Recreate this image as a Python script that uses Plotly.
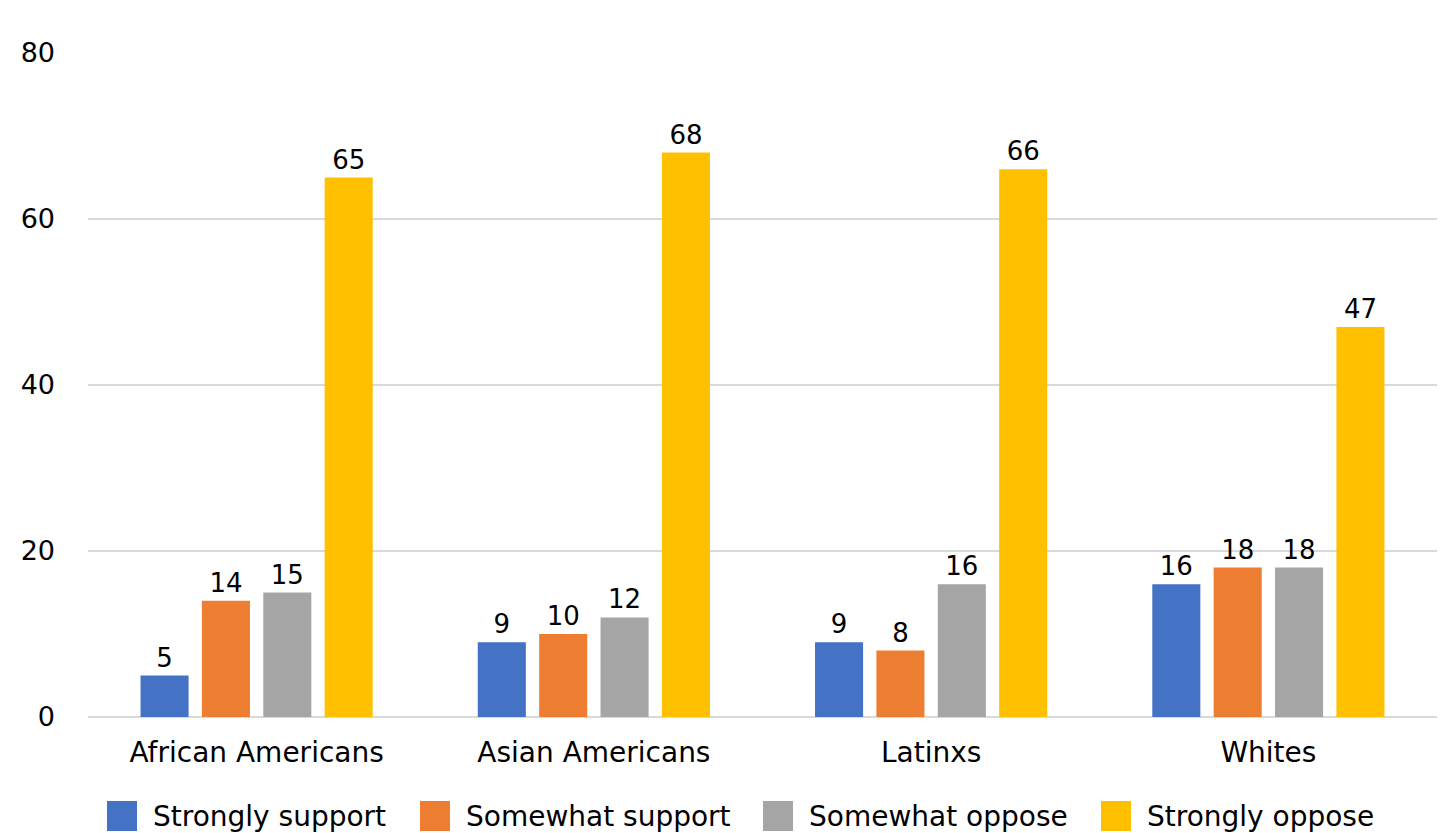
import plotly.graph_objects as go

categories = ["African Americans", "Asian Americans", "Latinxs", "Whites"]
series_names = ["Strongly support", "Somewhat support", "Somewhat oppose", "Strongly oppose"]
strongly_support = [5, 9, 9, 16]
somewhat_support = [14, 10, 8, 18]
somewhat_oppose = [15, 12, 16, 18]
strongly_oppose = [65, 68, 66, 47]
colors = ["#4472c4", "#ed7d31", "#a5a5a5", "#ffc000"]

font_family = "DejaVu Sans, Verdana, sans-serif"

# page has an 8px body margin, so the figure is 8px smaller than the window
OFF = 8
W, H = 1448 - OFF, 833 - OFF
ML, MR, MT, MB = 88 - OFF, 11, 53 - OFF, 116
pw, ph = W - ML - MR, H - MT - MB

fig = go.Figure()
for name, vals, col in zip(series_names,
                           [strongly_support, somewhat_support, somewhat_oppose, strongly_oppose],
                           colors):
    fig.add_trace(go.Bar(
        x=categories, y=vals, name=name,
        marker=dict(color=col, line=dict(width=0)),
        text=vals, textposition="outside",
        textfont=dict(size=26, color="black"),
        cliponaxis=False,
        showlegend=False,
    ))

# manual legend with big square swatches (page pixel positions)
legend_swatch_x = [107, 420, 763, 1101]
legend_y = 816
sw = 30
for name, col, sx in zip(series_names, colors, legend_swatch_x):
    fx = sx - OFF
    fy = legend_y - OFF
    fig.add_shape(type="rect", xref="paper", yref="paper",
                  x0=(fx - ML) / pw, x1=(fx + sw - ML) / pw,
                  y0=(H - MB - (fy + sw / 2)) / ph, y1=(H - MB - (fy - sw / 2)) / ph,
                  fillcolor=col, line=dict(width=0))
    fig.add_annotation(xref="paper", yref="paper", x=(fx + sw + 14 - ML) / pw,
                       y=(H - MB - fy) / ph, text=name, showarrow=False,
                       xanchor="left", yanchor="middle", font=dict(size=28, color="black"))

fig.update_layout(
    width=W, height=H,
    margin=dict(l=ML, r=MR, t=MT, b=MB),
    plot_bgcolor="white", paper_bgcolor="white",
    font=dict(family=font_family, size=27, color="black"),
    barmode="group", bargap=0.272, bargroupgap=0.217,
    showlegend=False,
    xaxis=dict(showgrid=False, showline=False, ticks="", tickfont=dict(size=28),
               ticklabelstandoff=16, automargin=False),
    yaxis=dict(range=[0, 80], dtick=20, showgrid=True, gridcolor="#d9d9d9", gridwidth=2,
               zeroline=True, zerolinecolor="#d9d9d9", zerolinewidth=2,
               showline=False, ticks="", tickfont=dict(size=27), ticklabelstandoff=32,
               automargin=False),
)

fig.write_html("out.html")
